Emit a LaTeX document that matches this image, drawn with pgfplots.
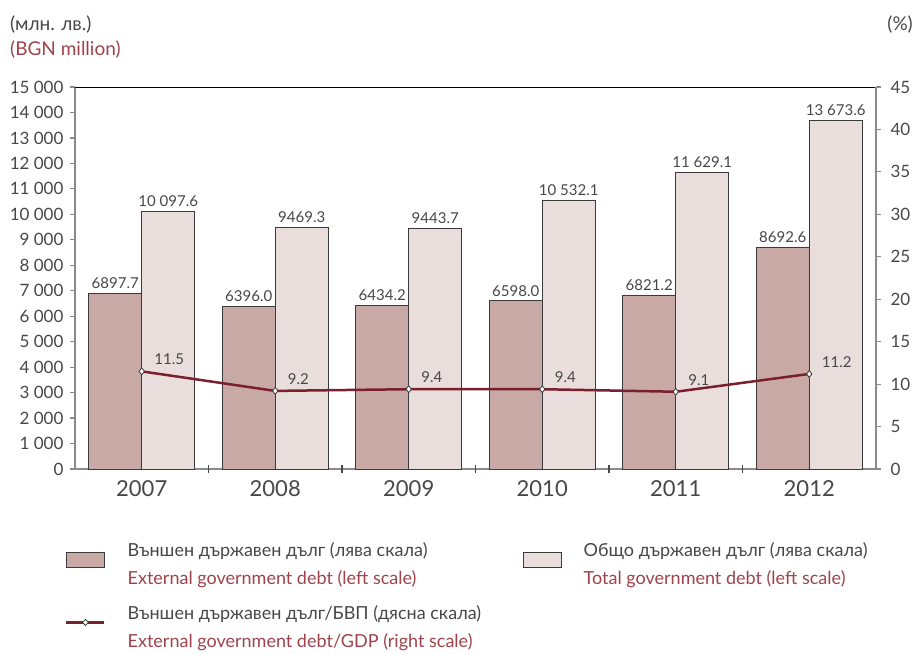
\documentclass[border=0pt]{standalone}
\usepackage{fontspec}
\setmainfont{Lato}
\usepackage{pgfplots}
\pgfplotsset{compat=1.18}
\definecolor{extc}{HTML}{C9A9A6}
\definecolor{totc}{HTML}{EADEDD}
\definecolor{linec}{HTML}{7A1F2D}
\definecolor{txt}{HTML}{474747}
\definecolor{eng}{HTML}{A0424C}
\definecolor{axg}{HTML}{8A8A8A}
\definecolor{barl}{HTML}{3A3A3A}
\begin{document}
\begin{tikzpicture}
\path[use as bounding box] (-75pt,-185pt) rectangle (841pt,469pt);
\node[anchor=west,inner sep=0,text=txt,font=\fontsize{19}{19}\selectfont] at (-65pt,444pt) {(млн. лв.)};
\node[anchor=west,inner sep=0,text=eng,font=\fontsize{19}{19}\selectfont] at (-65pt,419pt) {(BGN million)};
\node[anchor=east,inner sep=0,text=txt,font=\fontsize{19}{19}\selectfont] at (838pt,444pt) {(\%)};
\begin{axis}[
  at={(0,0)}, anchor=south west,
  width=801pt, height=382pt, scale only axis,
  xmin=-0.5, xmax=5.5, ymin=0, ymax=15000,
  axis x line*=bottom, axis y line*=left,
  axis line style={draw=axg, line width=1.6pt, -},
  ybar, bar width=53pt,
  xtick={0,...,5}, xticklabels={2007,2008,2009,2010,2011,2012},
  x tick label style={font=\fontsize{22}{22}\selectfont, text=txt, yshift=-3pt},
  major x tick style={draw=none},
  extra x ticks={0.5,1.5,2.5,3.5,4.5},
  extra x tick labels={},
  extra x tick style={major tick length=8pt, tick align=center, major x tick style={draw=txt, line width=1.2pt}},
  ytick={0,1000,...,15000},
  scaled y ticks=false,
  tick align=outside, major tick length=5pt,
  y tick style={draw=axg, line width=1.2pt},
  y tick label style={font=\fontsize{17}{17}\selectfont, text=txt, xshift=-3pt},
  /pgf/number format/assume math mode=true,
  /pgf/number format/1000 sep={\ },
  legend columns=2,
  legend cell align=left,
  legend style={draw=none, fill=none, inner sep=0pt, at={(axis description cs:0,0)}, anchor=north west, xshift=-10pt, yshift=-66pt,
    font=\fontsize{18}{28}\selectfont, text=txt, row sep=25pt,
    /tikz/every odd column/.append style={column sep=20pt},
    /tikz/every even column/.append style={column sep=20pt}},
  nodes near coords={\pgfmathprintnumber[fixed,fixed zerofill,precision=1,1000 sep={\ },min exponent for 1000 sep=4,assume math mode=true]{\pgfplotspointmeta}},
  every node near coord/.append style={font=\fontsize{15}{15}\selectfont, text=txt, yshift=1pt},
]
\addplot[fill=extc, draw=barl, line width=1pt, bar shift=-26.5pt,
  legend image code/.code={\draw[fill=extc, draw=barl, line width=1pt] (0pt,-13pt) rectangle (38pt,2pt);}]
  coordinates {(0,6897.7) (1,6396.0) (2,6434.2) (3,6598.0) (4,6821.2) (5,8692.6)};
\addlegendentry{\begin{tabular}{@{}p{373pt}@{}}Външен държавен дълг (лява скала)\\ \textcolor{eng}{External government debt (left scale)}\end{tabular}}
\addplot[fill=totc, draw=barl, line width=1pt, bar shift=26.5pt,
  legend image code/.code={\draw[fill=totc, draw=barl, line width=1pt] (0pt,-13pt) rectangle (38pt,2pt);}]
  coordinates {(0,10097.6) (1,9469.3) (2,9443.7) (3,10532.1) (4,11629.1) (5,13673.6)};
\addlegendentry{\begin{tabular}{@{}l@{}}Общо държавен дълг (лява скала)\\ \textcolor{eng}{Total government debt (left scale)}\end{tabular}}
\addlegendimage{legend image code/.code={\draw[linec, line width=2.5pt] (0pt,-5.5pt) -- (38pt,-5.5pt); \draw[barl, fill=white, line width=0.8pt] (19pt,-5.5pt) +(-3pt,0) -- +(0,3pt) -- +(3pt,0) -- +(0,-3pt) -- cycle;}}
\addlegendentry{\begin{tabular}{@{}l@{}}Външен държавен дълг/БВП (дясна скала)\\ \textcolor{eng}{External government debt/GDP (right scale)}\end{tabular}}
\end{axis}
\begin{axis}[
  at={(0,0)}, anchor=south west,
  width=801pt, height=382pt, scale only axis,
  xmin=-0.5, xmax=5.5, ymin=0, ymax=45,
  axis x line*=top, axis y line*=right,
  x axis line style={draw=black, line width=1pt, -},
  y axis line style={draw=axg, line width=1.6pt, -},
  xtick=\empty,
  ytick={0,5,...,45},
  tick align=outside, major tick length=5pt,
  y tick style={draw=axg, line width=1.2pt},
  y tick label style={font=\fontsize{17}{17}\selectfont, text=txt, xshift=6pt},
  /pgf/number format/assume math mode=true,
]
\addplot[linec, line width=2.5pt, mark=diamond*, mark size=3.5pt, mark options={fill=white, draw=barl, line width=0.8pt},
  nodes near coords={\pgfmathprintnumber[fixed,fixed zerofill,precision=1,assume math mode=true]{\pgfplotspointmeta}},
  every node near coord/.append style={font=\fontsize{15}{15}\selectfont, text=txt, anchor=west, xshift=9pt, yshift=12pt}]
  coordinates {(0,11.5) (1,9.2) (2,9.4) (3,9.4) (4,9.1) (5,11.2)};
\end{axis}
\end{tikzpicture}
\end{document}
